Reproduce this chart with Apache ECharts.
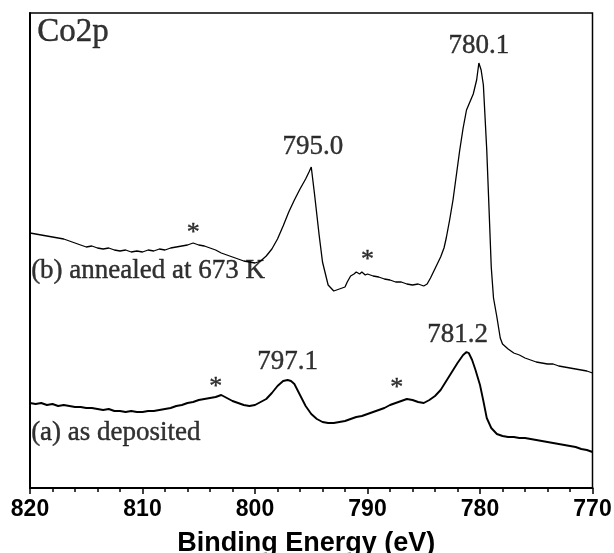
<!DOCTYPE html>
<html>
<head>
<meta charset="utf-8">
<script src="https://cdn.jsdelivr.net/npm/echarts@6/dist/echarts.min.js"></script>
<style>
  html, body { margin: 0; padding: 0; background: #fff; }
  #chart { width: 614px; height: 553px; }
</style>
</head>
<body>
<div id="chart"></div>
<script>
// Co 2p XPS spectra: binding energy (eV) vs intensity (arbitrary units, curves offset)

// (b) annealed at 673 K
const energyB = [
  820, 819.5, 819, 818.5, 818, 817.5, 817, 816.5, 816, 815.5, 815, 814.5, 814, 813.5, 813, 812.5,
  812, 811.5, 811, 810.5, 810, 809.5, 809, 808.5, 808, 807.5, 807, 806.5, 806, 805.5, 805, 804.5,
  804, 803.5, 803, 802.5, 802, 801.5, 801, 800.5, 800, 799.5, 799, 798.5, 798, 797.5, 797, 796.5,
  796, 795.5, 795.2, 795.0, 794.7, 794.3, 794, 793.5, 793, 792.5, 792, 791.8, 791.5, 791.2, 791,
  790.7, 790.5, 790.2, 790, 789.5, 789, 788.5, 788, 787.5, 787, 786.5, 786, 785.5, 785, 784.7,
  784.4, 784.1, 783.8, 783.5, 783.2, 783, 782.7, 782.4, 782.1, 781.8, 781.5, 781.2, 780.9, 780.6,
  780.3, 780.1, 779.9, 779.7, 779.4, 779.2, 779.0, 778.8, 778.5, 778.2, 778, 777.5, 777, 776.5,
  776, 775.5, 775, 774.5, 774, 773.5, 773, 772.5, 772, 771.5, 771, 770.5, 770
];
const intensityB = [
  255, 254, 253, 252, 251, 250, 249, 247, 245, 243, 241, 242, 240, 239, 240, 238,
  237, 238, 236, 237, 236, 238, 237, 239, 238, 240, 241, 242, 243, 245, 243, 242,
  240, 238, 235, 233, 231, 229, 227, 226, 225, 227, 232, 239, 249, 262, 276, 288,
  299, 309, 316, 321, 293, 253, 226, 203, 197, 199, 201, 206, 212, 214, 216,
  214, 216, 213, 214, 212, 211, 209, 208, 206, 206, 204, 203, 204, 202, 204,
  210, 217, 224, 231, 240, 250, 268, 288, 313, 338, 360, 378, 386, 394,
  408, 425, 418, 403, 338, 280, 221, 190, 171, 150, 144, 139, 135, 133,
  130, 128, 126, 125, 124, 124, 122, 121, 120, 119, 118, 117, 115
];

// (a) as deposited
const energyA = [
  820, 819.5, 819, 818.5, 818, 817.5, 817, 816.5, 816, 815.5, 815, 814.5, 814, 813.5, 813, 812.5,
  812, 811.5, 811, 810.5, 810, 809.5, 809, 808.5, 808, 807.5, 807, 806.5, 806, 805.5, 805, 804.5,
  804, 803.5, 803, 802.5, 802, 801.5, 801, 800.5, 800, 799.5, 799, 798.5, 798, 797.5, 797.1, 796.8,
  796.5, 796, 795.5, 795, 794.5, 794, 793.5, 793, 792.5, 792, 791.5, 791, 790.5, 790, 789.5, 789,
  788.5, 788, 787.5, 787, 786.5, 786, 785.5, 785, 784.5, 784, 783.5, 783, 782.5, 782, 781.5, 781.2,
  781, 780.7, 780.4, 780, 779.7, 779.4, 779, 778.5, 778, 777.5, 777, 776.5, 776, 775.5, 775, 774.5,
  774, 773.5, 773, 772.5, 772, 771.5, 771, 770.5, 770
];
const intensityA = [
  85, 84, 85, 83, 84, 82, 83, 82, 81, 81, 80, 80, 79, 78, 79, 77,
  77, 76, 77, 76, 76, 77, 77, 78, 79, 80, 82, 83, 85, 86, 88, 89,
  90, 91, 93, 90, 87, 85, 83, 82, 83, 86, 89, 95, 102, 107, 108, 107,
  104, 93, 82, 74, 69, 66, 65, 65, 66, 67, 69, 71, 72, 74, 76, 78,
  80, 83, 85, 87, 89, 88, 86, 85, 88, 92, 98, 107, 116, 125, 133, 136,
  135, 128, 118, 103, 87, 70, 60, 54, 52, 51, 51, 50, 50, 49, 48, 47,
  46, 45, 44, 43, 42, 41, 39, 38, 36
];

// Peak positions and where their value labels sit
const peakEnergy = [795.0, 780.1, 797.1, 781.2];
const peakLabelX = [794.85, 780.1, 797.1, 782.0];
const peakLabelY = [341, 442, 126, 153];

// Satellite markers
const satelliteX = [805.5, 790.0, 803.5, 787.4];
const satelliteY = [255, 228, 101, 100];

// Spectrum names
const curveNames = ['(b) annealed at 673 K', '(a) as deposited'];
const curveNameX = [819.9, 819.9];
const curveNameY = [217, 55];

const panelTitle = 'Co2p';
const panelTitleAt = [819.35, 456];

const xTitle = 'Binding Energy (eV)';

const serif = "'Liberation Serif', 'Times New Roman', serif";
const sans = "'Liberation Sans', Arial, sans-serif";

function pairs(xs, ys) { return xs.map((x, i) => [x, ys[i]]); }

const textSeries = (data, size, align) => ({
  type: 'scatter',
  symbolSize: 0,
  silent: true,
  z: 5,
  data: data,
  label: {
    show: true,
    position: 'inside',
    formatter: p => p.data.text,
    fontFamily: serif,
    fontSize: size,
    color: '#000',
    textBorderColor: '#000',
    textBorderWidth: 0.4,
    align: align,
    verticalAlign: 'middle'
  }
});

const chart = echarts.init(document.getElementById('chart'), null, { renderer: 'canvas' });

chart.setOption({
  animation: false,
  backgroundColor: '#fff',
  grid: {
    left: 30, right: 21.5, top: 13, bottom: 65,
    containLabel: false,
    outerBoundsMode: 'none',
    show: true, borderColor: '#000', borderWidth: 1.5, backgroundColor: 'transparent'
  },
  xAxis: {
    type: 'value',
    inverse: true,
    min: 770, max: 820, interval: 10,
    name: xTitle,
    nameLocation: 'middle',
    nameGap: 42,
    nameTextStyle: { fontFamily: sans, fontWeight: 'bold', fontSize: 27, color: '#000', padding: [0, 10, 0, 0] },
    axisLine: { show: true, onZero: false, lineStyle: { color: '#000', width: 2 } },
    axisTick: { show: true, inside: false, length: 6, lineStyle: { color: '#000', width: 1.5 } },
    minorTick: { show: true, splitNumber: 5, length: 4, lineStyle: { color: '#000', width: 1.5 } },
    axisLabel: { margin: 10, fontFamily: sans, fontWeight: 'bold', fontSize: 23, color: '#000' },
    splitLine: { show: false }
  },
  yAxis: {
    type: 'value',
    min: 0, max: 475,
    axisLine: { show: true, onZero: false, lineStyle: { color: '#000', width: 2 } },
    axisTick: { show: false },
    axisLabel: { show: false },
    splitLine: { show: false }
  },
  series: [
    {
      type: 'line',
      data: pairs(energyB, intensityB),
      showSymbol: false,
      lineStyle: { color: '#000', width: 1.3 },
      z: 3
    },
    {
      type: 'line',
      data: pairs(energyA, intensityA),
      showSymbol: false,
      lineStyle: { color: '#000', width: 1.9 },
      z: 3
    },
    textSeries(peakEnergy.map((e, i) => ({ value: [peakLabelX[i], peakLabelY[i]], text: e.toFixed(1) })), 27, 'center'),
    textSeries(satelliteX.map((x, i) => ({ value: [x, satelliteY[i]], text: '*' })), 26, 'center'),
    textSeries(curveNames.map((n, i) => ({ value: [curveNameX[i], curveNameY[i]], text: n })), 27, 'left'),
    textSeries([{ value: panelTitleAt, text: panelTitle }], 33, 'left')
  ]
});
</script>
</body>
</html>
